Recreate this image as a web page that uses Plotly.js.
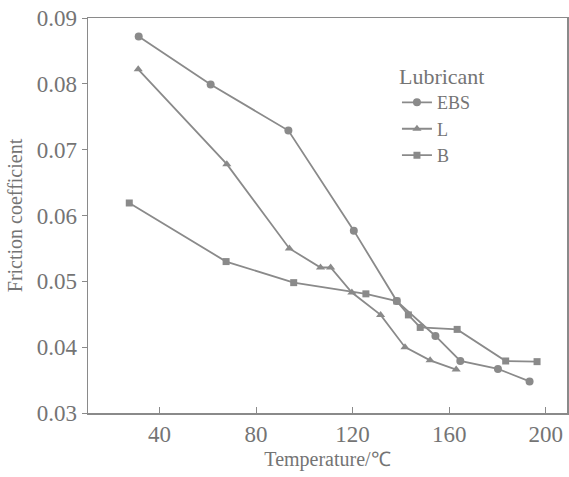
<!DOCTYPE html>
<html>
<head>
<meta charset="utf-8">
<script src="https://cdn.plot.ly/plotly-3.0.1.min.js"></script>
<style>html,body{margin:0;padding:0;background:#fff;}#chart{width:569px;height:477px;}</style>
</head>
<body>
<div id="chart"></div>
<script>
// EBS lubricant
const ebsTemp = [31.4, 61.2, 93.4, 120.5, 138.3, 154.3, 164.6, 180.2, 193.3];
const ebsFriction = [0.0872, 0.0799, 0.0729, 0.0577, 0.0470, 0.0417, 0.0379, 0.0367, 0.0348];
// L lubricant
const lTemp = [31.2, 67.9, 93.8, 106.7, 110.9, 119.7, 131.6, 141.7, 152.1, 162.9];
const lFriction = [0.0822, 0.0678, 0.0550, 0.0521, 0.0521, 0.0483, 0.0449, 0.0400, 0.0380, 0.0366];
// B lubricant
const bTemp = [27.5, 67.6, 95.6, 125.5, 138.3, 143.1, 148.0, 163.3, 183.4, 196.4];
const bFriction = [0.0619, 0.0530, 0.0498, 0.0481, 0.0470, 0.0449, 0.0430, 0.0427, 0.0379, 0.0378];

const seriesNames = ['EBS', 'L', 'B'];
const xTicks = [40, 80, 120, 160, 200];
const yTicks = [0.03, 0.04, 0.05, 0.06, 0.07, 0.08, 0.09];
const yTickText = ['0.03', '0.04', '0.05', '0.06', '0.07', '0.08', '0.09'];

const lineColor = '#8a8a8a';
const textColor = '#747474';
const fontFam = 'Liberation Serif';

function tr(x, y, name, symbol, size) {
  return {
    x: x, y: y, name: name, type: 'scatter', mode: 'lines+markers',
    line: {color: lineColor, width: 1.8},
    marker: {symbol: symbol, size: size, color: lineColor}
  };
}

const data = [
  tr(ebsTemp, ebsFriction, seriesNames[0], 'circle', 8),
  tr(lTemp, lFriction, seriesNames[1], 'triangle-up', 8),
  tr(bTemp, bFriction, seriesNames[2], 'square', 7)
];

const layout = {
  width: 569, height: 477,
  margin: {l: 88, r: 2, t: 18, b: 64},
  paper_bgcolor: '#ffffff', plot_bgcolor: '#ffffff',
  font: {family: fontFam, color: textColor, size: 23},
  showlegend: true,
  legend: {
    x: 0.645, y: 0.905, xanchor: 'left', yanchor: 'top',
    bgcolor: 'rgba(0,0,0,0)',
    font: {family: fontFam, size: 18, color: textColor},
    title: {text: 'Lubricant', font: {family: fontFam, size: 22, color: textColor}},
    tracegroupgap: 0, itemwidth: 30
  },
  xaxis: {
    range: [10.4, 208.8],
    tickvals: xTicks, ticks: 'inside', ticklen: 6, tickcolor: lineColor,
    showline: true, linecolor: lineColor, linewidth: 1.5, mirror: true,
    showgrid: false, zeroline: false,
    tickfont: {family: fontFam, size: 23, color: textColor},
    title: {text: 'Temperature/℃', font: {family: fontFam, size: 20, color: textColor}, standoff: 6}
  },
  yaxis: {
    range: [0.03, 0.09],
    tickvals: yTicks, ticktext: yTickText, ticks: 'outside', ticklen: 5, tickcolor: lineColor,
    showline: true, linecolor: lineColor, linewidth: 1.5, mirror: true,
    showgrid: false, zeroline: false,
    tickfont: {family: fontFam, size: 23, color: textColor},
    title: {text: 'Friction coefficient', font: {family: fontFam, size: 20, color: textColor}, standoff: 8}
  }
};

Plotly.newPlot('chart', data, layout, {displayModeBar: false, staticPlot: true});
</script>
</body>
</html>
